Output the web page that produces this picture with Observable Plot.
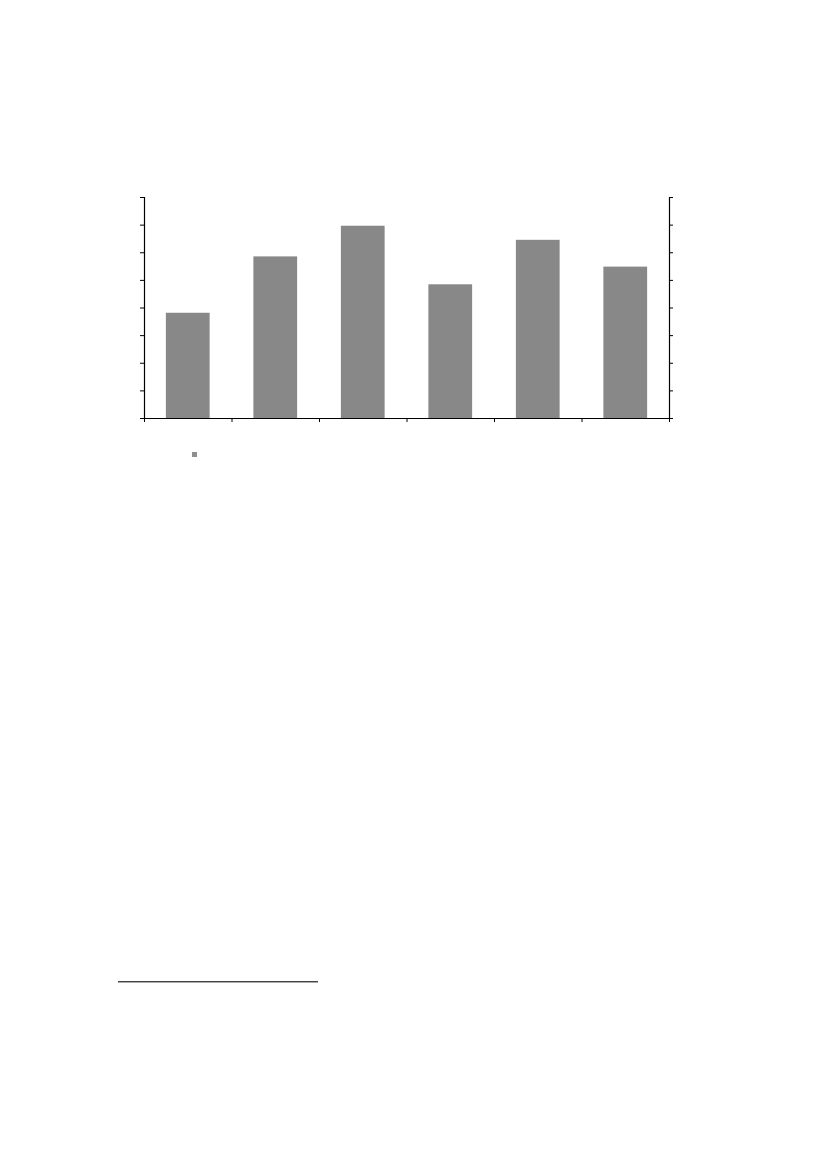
<!DOCTYPE html>
<html>
<head>
<meta charset="utf-8">
<script src="https://cdn.jsdelivr.net/npm/d3@7"></script>
<script src="https://cdn.jsdelivr.net/npm/@observablehq/plot@0.6"></script>
<style>
  html, body { margin: 0; padding: 0; background: #fff; }
  #page { position: relative; width: 827px; height: 1169px; }
  #chart { position: absolute; left: 0; top: 0; }
  #legend { position: absolute; left: 192px; top: 452px; width: 5px; height: 5px; background: #8f8f8f; }
  #footrule { position: absolute; left: 118px; top: 981px; width: 200px; height: 0; border-top: 1px solid #444; border-bottom: 1px solid #aaa; }
</style>
</head>
<body>
<div id="page">
  <div id="chart"></div>
  <div id="legend"></div>
  <div id="footrule"></div>
</div>
<script>
const categories = ["1", "2", "3", "4", "5", "6"];
const values = [3.81, 5.85, 6.96, 4.84, 6.45, 5.48];
const yTicks = [0, 1, 2, 3, 4, 5, 6, 7, 8];
const xBoundaries = [0, 1, 2, 3, 4, 5, 6];

const data = categories.map((c, i) => ({category: c, index: i, value: values[i]}));

const chart = Plot.plot({
  width: 827,
  height: 470,
  marginLeft: 144,
  marginRight: 158,
  marginTop: 197,
  marginBottom: 52,
  x: {domain: [0, categories.length], axis: null},
  y: {domain: [0, 8], axis: null},
  style: {background: "transparent"},
  marks: [
    Plot.rectY(data, {x1: d => d.index + 0.25, x2: d => d.index + 0.75, y: "value", fill: "#888888"}),
    Plot.axisY(yTicks, {anchor: "left", tickSize: 4, tickFormat: () => "", stroke: "#000", label: null}),
    Plot.axisY(yTicks, {anchor: "right", tickSize: 3, tickFormat: () => "", stroke: "#000", label: null}),
    Plot.axisX(xBoundaries, {anchor: "bottom", tickSize: 4, tickFormat: () => "", stroke: "#000", label: null}),
    Plot.ruleX([0, categories.length], {stroke: "#000", strokeWidth: 1.2}),
    Plot.ruleY([0], {stroke: "#000", strokeWidth: 1.2})
  ]
});
document.getElementById("chart").append(chart);
</script>
</body>
</html>
